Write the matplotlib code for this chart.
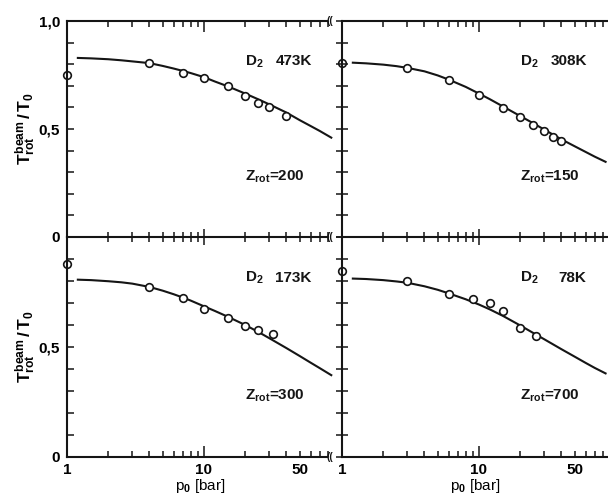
import matplotlib
matplotlib.use("Agg")
import matplotlib.pyplot as plt
from matplotlib.ticker import FixedLocator, FixedFormatter, NullFormatter

plt.rcParams["font.family"] = ["Liberation Sans", "DejaVu Sans"]
plt.rcParams["font.weight"] = "bold"
plt.rcParams["mathtext.fontset"] = "custom"
plt.rcParams["mathtext.rm"] = "Liberation Sans:bold"
plt.rcParams["mathtext.it"] = "Liberation Sans:bold"
plt.rcParams["mathtext.bf"] = "Liberation Sans:bold"

INK = "#151515"
W, H = 608, 497

# --- data (p0 in bar, T_rot^beam / T0) ---
# measured points (first one sits on the p0 = 1 axis)
p_473 = [1, 4, 7, 10, 15, 20, 25, 30, 40]
t_473 = [0.751, 0.804, 0.759, 0.736, 0.698, 0.653, 0.622, 0.600, 0.562]
p_308 = [1, 3, 6, 10, 15, 20, 25, 30, 35, 40]
t_308 = [0.804, 0.781, 0.727, 0.659, 0.599, 0.554, 0.518, 0.491, 0.464, 0.446]
p_173 = [1, 4, 7, 10, 15, 20, 25, 32]
t_173 = [0.879, 0.773, 0.725, 0.675, 0.632, 0.596, 0.576, 0.561]
p_78 = [1, 3, 6, 9, 12, 15, 20, 26]
t_78 = [0.845, 0.800, 0.743, 0.717, 0.700, 0.662, 0.588, 0.549]

# calculated curves
fit_p_473 = [1.2, 1.5, 2, 2.5, 3, 4, 5, 6, 7, 8, 10, 12, 15, 20, 25, 30, 40, 50, 60, 70, 85]
fit_t_473 = [0.829, 0.827, 0.823, 0.818, 0.813, 0.805, 0.792, 0.780, 0.769, 0.759, 0.740,
             0.720, 0.697, 0.664, 0.637, 0.614, 0.576, 0.541, 0.514, 0.491, 0.460]
fit_p_308 = [1.2, 1.5, 2, 2.5, 3, 4, 5, 6, 8, 10, 12, 15, 20, 25, 30, 40, 50, 60, 70, 84]
fit_t_308 = [0.807, 0.804, 0.798, 0.791, 0.783, 0.767, 0.748, 0.729, 0.695, 0.664, 0.638,
             0.604, 0.560, 0.526, 0.497, 0.452, 0.420, 0.394, 0.372, 0.348]
fit_p_173 = [1.2, 1.5, 2, 2.5, 3, 4, 5, 6, 7, 8, 10, 12, 15, 20, 25, 30, 40, 50, 60, 70, 85]
fit_t_173 = [0.806, 0.804, 0.799, 0.794, 0.788, 0.773, 0.756, 0.740, 0.725, 0.711, 0.685,
             0.664, 0.637, 0.600, 0.568, 0.540, 0.495, 0.459, 0.429, 0.404, 0.372]
fit_p_78 = [1.2, 1.5, 2, 2.5, 3, 4, 5, 6, 8, 10, 12, 15, 20, 26, 30, 40, 50, 60, 70, 84]
fit_t_78 = [0.811, 0.809, 0.804, 0.798, 0.792, 0.776, 0.760, 0.744, 0.717, 0.693, 0.671,
            0.641, 0.598, 0.557, 0.535, 0.490, 0.456, 0.428, 0.405, 0.380]

temps = ["473K", "308K", "173K", "78K"]
z_rot = [200, 150, 300, 700]

x_major = [1, 10]
x_minor = [2, 3, 4, 5, 6, 7, 8, 9, 20, 30, 40, 50, 60, 70, 80]
x_minor_labels = ["50" if v == 50 else "" for v in x_minor]
y_major = [0, 0.5, 1.0]
y_minor = [0.1, 0.2, 0.3, 0.4, 0.6, 0.7, 0.8, 0.9]

XMAX = 87.5
SPINE_END = 79


def px_rect(x0, y0, x1, y1):
    return [x0 / W, 1 - y1 / H, (x1 - x0) / W, (y1 - y0) / H]


fig = plt.figure(figsize=(W / 100, H / 100), dpi=100)
fig.patch.set_facecolor("white")

ax_tl = fig.add_axes(px_rect(67, 21, 333, 237))
ax_tr = fig.add_axes(px_rect(342, 21, 608, 237))
ax_bl = fig.add_axes(px_rect(67, 237, 333, 457))
ax_br = fig.add_axes(px_rect(342, 237, 608, 457))


def base(ax):
    ax.set_xscale("log")
    ax.set_xlim(1, XMAX)
    ax.set_ylim(0, 1)
    ax.set_facecolor("none")
    ax.xaxis.set_major_locator(FixedLocator(x_major))
    ax.xaxis.set_minor_locator(FixedLocator(x_minor))
    ax.yaxis.set_major_locator(FixedLocator(y_major))
    ax.yaxis.set_minor_locator(FixedLocator(y_minor))
    ax.xaxis.set_minor_formatter(NullFormatter())
    for s in ax.spines.values():
        s.set_linewidth(1.5)
        s.set_color(INK)
    ax.spines["right"].set_visible(False)


def top_ticks(ax):
    sec = ax.secondary_xaxis("top")
    sec.set_xticks(x_major)
    sec.xaxis.set_minor_locator(FixedLocator(x_minor))
    sec.xaxis.set_minor_formatter(NullFormatter())
    sec.tick_params(which="both", direction="in", width=1.1, color=INK, labeltop=False)
    sec.tick_params(which="major", length=8)
    sec.tick_params(which="minor", length=4.3)
    sec.spines["top"].set_visible(False)


for ax in (ax_tl, ax_tr, ax_bl, ax_br):
    base(ax)

# top row
for ax in (ax_tl, ax_tr):
    top_ticks(ax)
    ax.tick_params(axis="x", which="both", direction="inout", width=1.1, color=INK,
                   top=False, labelbottom=False)
    ax.tick_params(axis="x", which="major", length=11)
    ax.tick_params(axis="x", which="minor", length=6.5)
# bottom row
for ax in (ax_bl, ax_br):
    ax.spines["top"].set_visible(False)
    ax.tick_params(axis="x", which="both", direction="in", width=1.1, color=INK,
                   top=False, pad=4, labelsize=11)
    ax.tick_params(axis="x", which="major", length=8)
    ax.tick_params(axis="x", which="minor", length=4.3)
    ax.xaxis.set_major_formatter(FixedFormatter(["1", "10"]))
    ax.xaxis.set_minor_formatter(FixedFormatter(x_minor_labels))
    ax.set_xlabel(r"p$_0$ [bar]", fontsize=11, labelpad=0)
# left column
for ax in (ax_tl, ax_bl):
    ax.tick_params(axis="y", which="both", direction="in", length=5, width=1.1,
                   color=INK, right=False, pad=5, labelsize=11)
    ax.spines["bottom"].set_bounds(1, SPINE_END)
    ax.set_ylabel(r"$T_{rot}^{beam}\,/\,T_0$", fontsize=12.5)
    ax.yaxis.set_label_coords(-0.11, 0.5)
ax_tl.spines["top"].set_bounds(1, SPINE_END)
ax_tl.yaxis.set_major_formatter(FixedFormatter(["0", "0,5", "1,0"]))
ax_bl.yaxis.set_major_formatter(FixedFormatter(["0", "0,5", ""]))
# right column
for ax in (ax_tr, ax_br):
    ax.tick_params(axis="y", which="both", direction="inout", length=8.6, width=1.1,
                   color=INK, right=False, labelleft=False)

panels = [
    (ax_tl, p_473, t_473, fit_p_473, fit_t_473),
    (ax_tr, p_308, t_308, fit_p_308, fit_t_308),
    (ax_bl, p_173, t_173, fit_p_173, fit_t_173),
    (ax_br, p_78, t_78, fit_p_78, fit_t_78),
]
for i, (ax, p, t, fp, ft) in enumerate(panels):
    ax.plot(fp, ft, color=INK, lw=1.5, zorder=3, clip_on=False)
    ax.plot(p[1:], t[1:], "o", ms=5.5, mfc="white", mec=INK, mew=1.2, zorder=4)
    ax.plot(p[:1], t[:1], "o", ms=5.5, mfc="none", mec=INK, mew=1.2, zorder=4,
            clip_on=False)
    ax.text(0.668, 0.795, r"D$_2$", transform=ax.transAxes, fontsize=11,
            color=INK, va="baseline", ha="left")
    ax.text(0.92, 0.795, temps[i], transform=ax.transAxes, fontsize=11,
            color=INK, va="baseline", ha="right")
    ax.text(0.668, 0.262, r"Z$_{rot}$=%d" % z_rot[i], transform=ax.transAxes,
            fontsize=11, color=INK, va="baseline", ha="left")

# axis break marks where the left panels meet the right ones
for yy in (21, 237, 457):
    fig.text(330 / W, 1 - yy / H, "((", fontsize=7, color=INK,
             ha="center", va="center")

fig.savefig("out.png", dpi=100, facecolor="white")
